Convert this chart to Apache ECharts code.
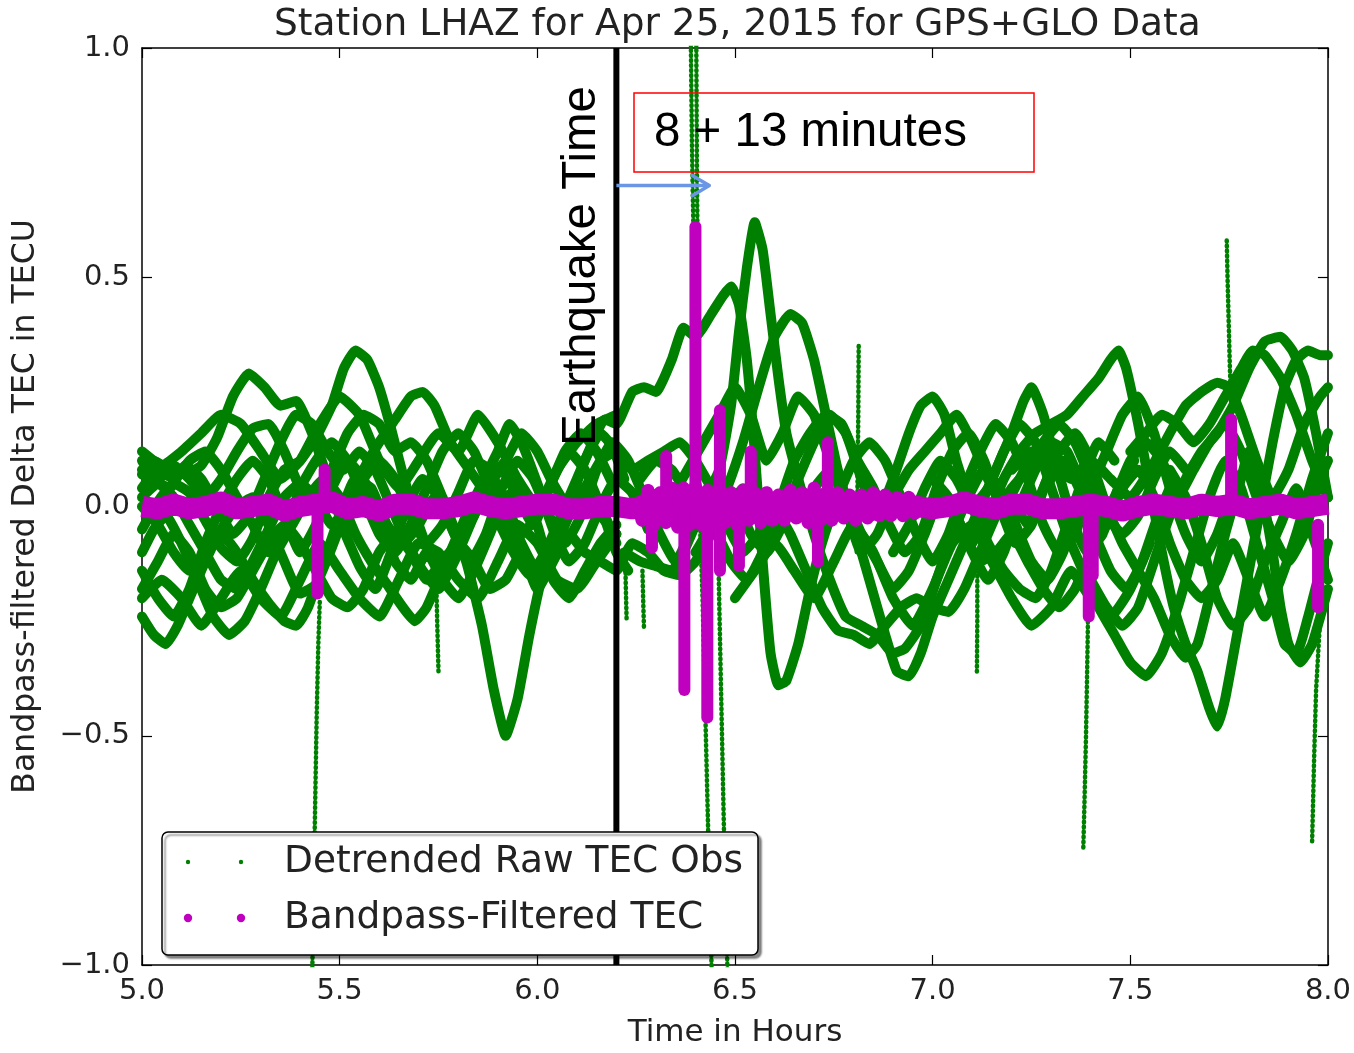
<!DOCTYPE html>
<html>
<head>
<meta charset="utf-8">
<script src="https://cdn.jsdelivr.net/npm/echarts/dist/echarts.min.js"></script>
<style>
  html, body { margin: 0; padding: 0; background: #ffffff; overflow: hidden; }
  #chart { width: 1354px; height: 1053px; }
</style>
</head>
<body>
<div id="chart"></div>
<script>
// ---- axis setup ----
const xTicks = [5.0, 5.5, 6.0, 6.5, 7.0, 7.5, 8.0];
const yTicks = [-1.0, -0.5, 0.0, 0.5, 1.0];
const quakeTime = 6.2;          // hours UT
const arrowLevel = 0.70;         // TECU level of the travel-time arrow
const arrowEnd = 6.435;          // arrival of the disturbance

// ---- detrended raw TEC arcs, [hour, TECU] ----
const arc01 = [[5.00,0.07],[5.03,0.10],[5.07,0.08],[5.11,0.07],[5.15,0.09],[5.19,0.15],[5.23,0.24],[5.27,0.29],[5.31,0.26],[5.35,0.22],[5.39,0.23],[5.43,0.16],[5.47,0.06],[5.51,-0.05],[5.55,-0.13],[5.59,-0.18],[5.63,-0.10],[5.67,0.00],[5.71,0.06],[5.75,0.02],[5.79,-0.06],[5.83,-0.12],[5.87,-0.06],[5.91,0.04],[5.95,0.10],[5.99,0.06],[6.03,-0.02],[6.07,-0.08],[6.11,-0.02],[6.15,0.08],[6.19,0.14],[6.23,0.10],[6.27,0.02],[6.31,-0.06],[6.35,-0.12],[6.39,-0.05]];
const arc02 = [[5.00,-0.05],[5.04,0.01],[5.08,0.05],[5.12,0.03],[5.16,-0.03],[5.20,-0.09],[5.24,-0.12],[5.28,-0.07],[5.32,0.02],[5.36,0.08],[5.40,0.10],[5.44,0.15],[5.48,0.22],[5.51,0.30],[5.54,0.34],[5.57,0.32],[5.60,0.26],[5.63,0.17],[5.66,0.07],[5.70,-0.04],[5.74,-0.12],[5.78,-0.10],[5.82,-0.02],[5.86,0.05],[5.90,0.12],[5.93,0.18],[5.96,0.14],[6.00,0.05],[6.04,-0.05],[6.08,-0.12],[6.12,-0.08],[6.16,0.00],[6.20,0.06],[6.24,0.03],[6.28,-0.05]];
const arc03 = [[5.00,0.02],[5.04,0.05],[5.08,0.02],[5.12,-0.04],[5.16,-0.10],[5.20,-0.16],[5.24,-0.18],[5.28,-0.12],[5.32,-0.05],[5.36,0.02],[5.40,0.05],[5.44,0.02],[5.48,-0.04],[5.52,0.00],[5.56,0.08],[5.60,0.14],[5.64,0.19],[5.68,0.24],[5.71,0.25],[5.74,0.22],[5.78,0.14],[5.82,0.09],[5.86,0.04],[5.90,-0.03],[5.94,-0.10],[5.98,-0.15],[6.02,-0.10],[6.06,-0.02],[6.10,0.06],[6.14,0.14],[6.17,0.19],[6.20,0.18],[6.24,0.25],[6.27,0.26],[6.30,0.25],[6.34,0.32],[6.37,0.39],[6.40,0.37],[6.44,0.42],[6.47,0.46],[6.49,0.48],[6.51,0.44],[6.53,0.32],[6.55,0.12],[6.57,-0.12],[6.59,-0.32],[6.61,-0.39],[6.63,-0.38],[6.66,-0.30],[6.69,-0.18],[6.72,-0.08],[6.76,0.02],[6.80,0.10],[6.84,0.14],[6.88,0.10],[6.92,0.02],[6.96,-0.06],[7.00,-0.12],[7.04,-0.06],[7.08,0.04],[7.12,0.12],[7.16,0.18],[7.20,0.14],[7.24,0.06],[7.28,-0.04],[7.32,-0.10],[7.36,-0.06],[7.40,0.04],[7.44,0.12],[7.48,0.20],[7.52,0.24],[7.56,0.16],[7.60,0.04],[7.64,-0.06],[7.68,-0.12],[7.72,-0.06],[7.76,0.04]];
const arc04 = [[5.00,-0.24],[5.03,-0.28],[5.06,-0.30],[5.09,-0.26],[5.12,-0.20],[5.16,-0.12],[5.20,-0.05],[5.24,0.00],[5.28,0.02],[5.32,-0.04],[5.36,-0.12],[5.40,-0.19],[5.44,-0.17],[5.48,-0.09],[5.52,0.00],[5.56,0.06],[5.60,0.10],[5.64,0.06],[5.68,-0.02],[5.72,-0.08],[5.76,-0.04],[5.80,0.03],[5.84,0.10],[5.88,0.08],[5.92,0.00],[5.96,-0.08],[6.00,-0.14],[6.04,-0.10],[6.08,-0.02],[6.12,0.04],[6.16,0.00],[6.20,-0.08]];
const arc05 = [[5.00,-0.10],[5.03,-0.05],[5.06,-0.02],[5.10,-0.08],[5.14,-0.16],[5.18,-0.24],[5.22,-0.28],[5.26,-0.25],[5.30,-0.18],[5.34,-0.10],[5.38,-0.04],[5.42,0.02],[5.46,0.06],[5.50,0.02],[5.54,-0.06],[5.58,-0.12],[5.62,-0.17],[5.66,-0.22],[5.69,-0.25],[5.72,-0.22],[5.76,-0.14],[5.80,-0.06],[5.84,0.00],[5.88,0.04],[5.92,0.00],[5.96,-0.06],[6.00,-0.02],[6.04,0.06],[6.08,0.12],[6.12,0.08],[6.16,0.00],[6.20,-0.10],[6.23,-0.14]];
const arc06 = [[5.00,0.00],[5.04,-0.04],[5.08,-0.10],[5.12,-0.14],[5.16,-0.10],[5.20,-0.06],[5.24,-0.10],[5.28,-0.16],[5.32,-0.21],[5.36,-0.25],[5.39,-0.26],[5.42,-0.22],[5.46,-0.12],[5.50,-0.02],[5.54,0.06],[5.58,0.04],[5.62,-0.04],[5.66,-0.08],[5.70,-0.04],[5.74,0.02],[5.78,-0.04],[5.82,-0.12],[5.86,-0.26],[5.89,-0.40],[5.92,-0.50],[5.95,-0.42],[5.98,-0.28],[6.01,-0.16],[6.04,-0.08],[6.08,-0.02],[6.12,0.02],[6.16,-0.02],[6.20,-0.06]];
const arc07 = [[5.00,0.08],[5.04,0.06],[5.08,0.09],[5.12,0.06],[5.16,0.02],[5.20,0.06],[5.24,0.12],[5.28,0.17],[5.32,0.18],[5.36,0.12],[5.40,0.04],[5.44,0.00],[5.48,0.08],[5.52,0.16],[5.56,0.20],[5.60,0.18],[5.64,0.12],[5.68,0.14],[5.72,0.10],[5.76,0.02],[5.80,-0.06],[5.84,-0.02],[5.88,0.06],[5.92,0.10],[5.96,0.16],[6.00,0.12],[6.04,0.05],[6.08,0.00],[6.12,0.04],[6.16,0.10],[6.20,0.12],[6.24,0.08],[6.28,0.10],[6.32,0.12],[6.36,0.14],[6.40,0.10],[6.44,0.04],[6.48,-0.04],[6.52,-0.10],[6.56,-0.06],[6.60,0.02]];
const arc08 = [[5.00,-0.18],[5.04,-0.12],[5.08,-0.06],[5.12,-0.10],[5.16,-0.18],[5.20,-0.22],[5.24,-0.20],[5.28,-0.14],[5.32,-0.08],[5.36,-0.04],[5.40,-0.08],[5.44,-0.14],[5.48,-0.20],[5.52,-0.22],[5.56,-0.18],[5.60,-0.10],[5.64,-0.06],[5.68,-0.10],[5.72,-0.16],[5.76,-0.12],[5.80,-0.08],[5.84,-0.12],[5.88,-0.18],[5.92,-0.16],[5.96,-0.10],[6.00,-0.18],[6.04,-0.12],[6.08,-0.06],[6.12,-0.10],[6.16,-0.12],[6.20,-0.14],[6.24,-0.08],[6.28,-0.10],[6.32,-0.14],[6.36,-0.15],[6.40,-0.12],[6.44,-0.06],[6.48,0.00],[6.52,0.04]];
const arc09 = [[6.26,0.06],[6.30,0.10],[6.34,0.08],[6.38,0.03],[6.42,0.02],[6.46,0.08],[6.49,0.22],[6.51,0.38],[6.53,0.52],[6.55,0.62],[6.57,0.56],[6.59,0.42],[6.61,0.28],[6.63,0.16],[6.66,0.06],[6.70,-0.06],[6.74,-0.16],[6.78,-0.24],[6.82,-0.26],[6.86,-0.28],[6.90,-0.32],[6.93,-0.31],[6.97,-0.26],[7.01,-0.16],[7.05,-0.06],[7.09,0.02],[7.13,0.08],[7.17,0.04],[7.21,-0.04],[7.25,-0.12],[7.29,-0.16],[7.33,-0.10],[7.37,0.00],[7.41,0.08]];
const arc10 = [[6.40,-0.10],[6.44,-0.04],[6.48,0.04],[6.52,0.14],[6.56,0.26],[6.60,0.37],[6.64,0.42],[6.67,0.40],[6.70,0.32],[6.73,0.20],[6.76,0.08],[6.80,-0.04],[6.84,-0.16],[6.88,-0.28],[6.91,-0.36],[6.94,-0.37],[6.97,-0.32],[7.00,-0.24],[7.04,-0.16],[7.08,-0.08],[7.12,0.00],[7.16,0.08],[7.20,0.16],[7.23,0.23],[7.25,0.26],[7.28,0.20],[7.31,0.10],[7.35,-0.02],[7.39,-0.10],[7.43,-0.06],[7.47,0.04],[7.51,0.10]];
const arc11 = [[6.22,-0.10],[6.26,-0.12],[6.30,-0.13],[6.34,-0.14],[6.38,-0.08],[6.42,0.00],[6.46,0.06],[6.50,0.02],[6.54,-0.06],[6.58,-0.10],[6.62,-0.04],[6.66,0.06],[6.70,0.14],[6.74,0.20],[6.78,0.16],[6.82,0.06],[6.86,-0.02],[6.90,0.06],[6.94,0.16],[6.97,0.22],[7.00,0.24],[7.03,0.20],[7.06,0.10],[7.10,0.00],[7.14,-0.08],[7.18,-0.14],[7.22,-0.18],[7.26,-0.20],[7.30,-0.14],[7.34,-0.04],[7.38,0.06],[7.42,0.14],[7.46,0.10]];
const arc12 = [[7.10,-0.08],[7.14,-0.02],[7.18,0.06],[7.22,0.12],[7.26,0.16],[7.30,0.18],[7.34,0.20],[7.38,0.24],[7.42,0.28],[7.45,0.32],[7.47,0.34],[7.49,0.30],[7.52,0.18],[7.55,0.04],[7.58,-0.10],[7.61,-0.22],[7.64,-0.30],[7.67,-0.36],[7.70,-0.44],[7.72,-0.48],[7.74,-0.42],[7.77,-0.28],[7.80,-0.14],[7.83,0.00],[7.86,0.14],[7.89,0.26],[7.92,0.32],[7.95,0.34],[7.98,0.33],[8.00,0.33]];
const arc13 = [[7.40,-0.16],[7.44,-0.22],[7.48,-0.26],[7.52,-0.22],[7.56,-0.12],[7.60,-0.02],[7.64,0.06],[7.68,0.12],[7.72,0.16],[7.76,0.22],[7.80,0.30],[7.84,0.36],[7.88,0.37],[7.91,0.34],[7.94,0.28],[7.97,0.16],[8.00,0.02]];
const arc14 = [[6.90,-0.10],[6.94,-0.04],[6.98,0.04],[7.02,0.10],[7.06,0.06],[7.10,0.00],[7.14,0.04],[7.18,0.12],[7.22,0.18],[7.26,0.14],[7.30,0.04],[7.34,-0.06],[7.38,-0.14],[7.42,-0.22],[7.46,-0.28],[7.50,-0.34],[7.54,-0.37],[7.58,-0.32],[7.62,-0.22],[7.66,-0.10],[7.70,0.02],[7.74,0.10],[7.78,0.04],[7.82,-0.08],[7.86,-0.20],[7.89,-0.30],[7.92,-0.32],[7.95,-0.24],[7.98,-0.14],[8.00,-0.08]];
const arc15 = [[7.20,0.02],[7.24,-0.04],[7.28,0.04],[7.32,0.12],[7.36,0.16],[7.40,0.10],[7.44,0.00],[7.48,-0.08],[7.52,-0.14],[7.56,-0.20],[7.60,-0.28],[7.64,-0.33],[7.67,-0.30],[7.70,-0.20],[7.74,-0.06],[7.78,0.06],[7.80,0.12],[7.83,0.04],[7.86,-0.10],[7.88,-0.22],[7.90,-0.30],[7.93,-0.34],[7.96,-0.30],[8.00,-0.18]];
const arc16 = [[7.20,0.08],[7.25,0.12],[7.30,0.10],[7.35,0.06],[7.40,0.10],[7.45,0.06],[7.50,0.02],[7.55,0.08],[7.60,0.16],[7.64,0.22],[7.68,0.25],[7.72,0.27],[7.75,0.26],[7.78,0.20],[7.82,0.10],[7.86,0.02],[7.90,0.08],[7.94,0.18],[7.98,0.24],[8.00,0.26]];
const arc17 = [[6.60,0.00],[6.64,-0.06],[6.68,-0.14],[6.72,-0.22],[6.76,-0.27],[6.80,-0.28],[6.84,-0.30],[6.88,-0.26],[6.92,-0.22],[6.96,-0.20],[7.00,-0.22],[7.04,-0.23],[7.08,-0.18],[7.12,-0.10],[7.16,-0.02],[7.20,0.04],[7.24,0.08],[7.28,0.14],[7.32,0.18],[7.36,0.14],[7.40,0.06],[7.44,-0.02],[7.48,-0.06],[7.52,-0.02],[7.56,0.06],[7.60,0.12],[7.64,0.08]];
const arc18 = [[6.45,-0.05],[6.49,-0.12],[6.53,-0.16],[6.57,-0.10],[6.61,0.00],[6.65,0.10],[6.69,0.16],[6.73,0.20],[6.77,0.18],[6.81,0.10],[6.85,0.04],[6.89,-0.04],[6.93,-0.10],[6.97,-0.06],[7.01,0.04],[7.05,0.12],[7.09,0.16],[7.13,0.10],[7.17,0.00],[7.21,-0.08],[7.25,-0.04],[7.29,0.06],[7.33,0.10],[7.37,0.04],[7.41,-0.06],[7.45,-0.14],[7.49,-0.18],[7.53,-0.12],[7.57,-0.02],[7.61,0.06]];
const arc19 = [[5.00,0.04],[5.04,0.08],[5.08,0.06],[5.12,0.10],[5.16,0.12],[5.20,0.08],[5.24,0.02],[5.28,-0.04],[5.32,-0.10],[5.36,-0.06],[5.40,0.04],[5.44,0.10],[5.48,0.14],[5.52,0.10],[5.56,0.02],[5.60,-0.06],[5.64,-0.10],[5.68,-0.04],[5.72,0.04],[5.76,0.12],[5.80,0.16],[5.84,0.12],[5.88,0.04],[5.92,-0.04],[5.96,-0.12],[6.00,-0.16],[6.04,-0.10],[6.08,0.00],[6.12,0.10],[6.16,0.16],[6.19,0.13],[6.22,0.06]];
const arc20 = [[5.00,-0.14],[5.04,-0.20],[5.08,-0.24],[5.12,-0.18],[5.16,-0.08],[5.20,0.00],[5.24,0.06],[5.28,0.10],[5.32,0.06],[5.36,-0.02],[5.40,-0.10],[5.44,-0.04],[5.48,0.04],[5.52,0.10],[5.56,0.06],[5.60,-0.02],[5.64,-0.12],[5.68,-0.16],[5.72,-0.10],[5.76,-0.16],[5.80,-0.20],[5.84,-0.14],[5.88,-0.06],[5.92,0.02],[5.96,0.04],[6.00,-0.04],[6.04,-0.16],[6.08,-0.20],[6.12,-0.14],[6.16,-0.08],[6.20,-0.04]];
const arc21 = [[5.00,0.10],[5.03,0.06],[5.07,0.04],[5.11,0.09],[5.15,0.06],[5.19,0.00],[5.23,-0.06],[5.27,-0.02],[5.31,0.06],[5.35,0.14],[5.39,0.20],[5.43,0.18],[5.47,0.12],[5.51,0.08],[5.55,0.12],[5.59,0.08],[5.63,0.00],[5.67,-0.08],[5.71,-0.14],[5.75,-0.18],[5.79,-0.12],[5.83,-0.04],[5.87,0.04],[5.91,0.08],[5.95,0.02],[5.99,-0.04],[6.03,0.04],[6.07,0.12],[6.11,0.16],[6.15,0.12],[6.19,0.05]];
const arc22 = [[6.70,0.04],[6.74,0.08],[6.78,0.02],[6.82,-0.06],[6.86,-0.12],[6.90,-0.18],[6.94,-0.14],[6.98,-0.06],[7.02,0.02],[7.06,-0.02],[7.10,-0.10],[7.14,-0.16],[7.18,-0.10],[7.22,0.00],[7.26,0.08],[7.30,0.14],[7.34,0.12],[7.38,0.04],[7.42,-0.04],[7.46,0.02],[7.50,0.10],[7.54,0.14],[7.58,0.10],[7.62,0.02],[7.66,0.08],[7.70,0.14],[7.74,0.18],[7.78,0.12],[7.82,0.02],[7.86,-0.06],[7.90,-0.12],[7.94,-0.06],[7.98,0.06],[8.00,0.10]];
const arc23 = [[7.00,0.06],[7.04,0.02],[7.08,-0.06],[7.12,-0.12],[7.16,-0.10],[7.20,-0.06],[7.24,-0.12],[7.28,-0.18],[7.32,-0.22],[7.36,-0.18],[7.40,-0.10],[7.44,-0.04],[7.48,0.04],[7.52,0.08],[7.56,0.02],[7.60,-0.08],[7.64,-0.16],[7.68,-0.20],[7.72,-0.16],[7.76,-0.08],[7.80,-0.16],[7.84,-0.24],[7.88,-0.16],[7.92,-0.06],[7.96,0.06],[8.00,0.16]];
const arc24 = [[7.50,0.12],[7.54,0.16],[7.58,0.20],[7.62,0.18],[7.66,0.14],[7.70,0.18],[7.74,0.24],[7.78,0.30],[7.81,0.34],[7.84,0.33],[7.88,0.28],[7.92,0.20],[7.96,0.10],[8.00,0.02]];
const arc25 = [[5.00,0.12],[5.05,0.09],[5.10,0.12],[5.15,0.16],[5.20,0.20],[5.25,0.18],[5.30,0.12],[5.35,0.06],[5.40,0.10],[5.45,0.18],[5.50,0.24],[5.55,0.20],[5.60,0.10],[5.65,0.04],[5.70,0.10],[5.75,0.16],[5.80,0.12],[5.85,0.20],[5.90,0.14],[5.95,0.06],[6.00,0.00],[6.05,0.08],[6.10,0.14],[6.15,0.18],[6.20,0.20]];
const arc26 = [[5.00,-0.20],[5.05,-0.16],[5.10,-0.20],[5.15,-0.26],[5.20,-0.20],[5.25,-0.14],[5.30,-0.20],[5.35,-0.24],[5.40,-0.16],[5.45,-0.08],[5.50,-0.14],[5.55,-0.20],[5.60,-0.24],[5.65,-0.16],[5.70,-0.08],[5.75,-0.10],[5.80,-0.16],[5.85,-0.20],[5.90,-0.12],[5.95,-0.04],[6.00,-0.08],[6.05,-0.16],[6.10,-0.18],[6.15,-0.12],[6.20,-0.06]];
const arc27 = [[6.26,0.00],[6.30,-0.04],[6.34,0.02],[6.38,0.08],[6.42,0.14],[6.46,0.20],[6.50,0.26],[6.54,0.20],[6.58,0.10],[6.62,0.16],[6.66,0.24],[6.70,0.20],[6.74,0.10],[6.78,0.00],[6.82,-0.10],[6.86,-0.06],[6.90,0.02],[6.94,0.08],[6.98,0.12],[7.02,0.16],[7.06,0.20],[7.10,0.14],[7.14,0.06],[7.18,0.00],[7.22,0.06],[7.26,0.12],[7.30,0.06]];
const arc28 = [[6.50,-0.20],[6.55,-0.14],[6.60,-0.08],[6.65,-0.14],[6.70,-0.20],[6.75,-0.12],[6.80,-0.04],[6.85,-0.10],[6.90,-0.20],[6.95,-0.26],[7.00,-0.18],[7.05,-0.08],[7.10,-0.04],[7.15,-0.12],[7.20,-0.20],[7.25,-0.26],[7.30,-0.22],[7.35,-0.14],[7.40,-0.20],[7.45,-0.24],[7.50,-0.18],[7.55,-0.08]];
const arc29 = [[7.60,0.08],[7.64,0.02],[7.68,-0.08],[7.72,-0.20],[7.76,-0.26],[7.80,-0.22],[7.84,-0.12],[7.88,-0.04],[7.92,0.04],[7.96,-0.06],[8.00,-0.16]];
const rawArcs = [arc01, arc02, arc03, arc04, arc05, arc06, arc07, arc08, arc09, arc10,
                 arc11, arc12, arc13, arc14, arc15, arc16, arc17, arc18, arc19, arc20,
                 arc21, arc22, arc23, arc24, arc25, arc26, arc27, arc28, arc29];

// short, steep arcs (sparse samples) -- drawn as dotted runs
const steep01 = [[5.430,-1.05],[5.434,-0.85],[5.438,-0.65],[5.442,-0.45],[5.446,-0.30],[5.450,-0.20]];
const steep02 = [[5.744,-0.15],[5.747,-0.26],[5.750,-0.36]];
const steep03 = [[6.222,-0.10],[6.224,-0.18],[6.226,-0.25]];
const steep04 = [[6.266,-0.14],[6.268,-0.21],[6.270,-0.27]];
const steep05 = [[6.388,1.05],[6.391,0.80],[6.395,0.60],[6.400,0.40],[6.405,0.20],[6.410,0.00],[6.418,-0.20],[6.425,-0.45],[6.432,-0.70],[6.438,-0.90],[6.442,-1.05]];
const steep06 = [[6.402,1.05],[6.403,0.85],[6.404,0.70],[6.405,0.60]];
const steep07 = [[6.455,0.05],[6.460,-0.20],[6.466,-0.45],[6.472,-0.70],[6.478,-0.90],[6.482,-1.05]];
const steep08 = [[6.813,0.35],[6.812,0.20],[6.810,0.05],[6.808,-0.10]];
const steep09 = [[7.113,-0.14],[7.113,-0.25],[7.112,-0.36]];
const steep10 = [[7.395,-0.12],[7.392,-0.30],[7.388,-0.50],[7.384,-0.65],[7.381,-0.75]];
const steep11 = [[7.744,0.58],[7.746,0.50],[7.749,0.40],[7.752,0.30],[7.756,0.20],[7.760,0.10],[7.765,0.00]];
const steep12 = [[7.960,-0.73],[7.965,-0.55],[7.970,-0.40],[7.980,-0.25],[7.990,-0.12]];
const steepArcs = [steep01, steep02, steep03, steep04, steep05, steep06,
                   steep07, steep08, steep09, steep10, steep11, steep12];

// ---- bandpass-filtered TEC ----
const bandTEC = [[5.00,0.00],[5.04,-0.005],[5.08,0.005],[5.12,-0.005],[5.16,0.00],[5.20,0.01],[5.24,-0.005],[5.28,0.00],[5.32,0.005],[5.36,-0.01],[5.40,0.00],[5.44,0.005],[5.48,0.01],[5.52,-0.005],[5.56,0.00],[5.60,-0.01],[5.64,0.005],[5.68,0.005],[5.72,-0.005],[5.76,-0.005],[5.80,0.00],[5.84,0.01],[5.88,0.00],[5.92,-0.005],[5.96,0.00],[6.00,0.005],[6.04,0.005],[6.08,-0.005],[6.12,-0.005],[6.16,0.00],[6.20,0.00],[6.24,-0.005],[6.28,0.005],[6.32,-0.005],[6.36,0.005],[6.40,0.00],[6.44,-0.005],[6.48,0.005],[6.52,0.00],[6.56,-0.005],[6.60,0.00],[6.64,0.005],[6.68,-0.005],[6.72,0.00],[6.76,0.005],[6.80,0.00],[6.84,-0.01],[6.88,0.00],[6.92,0.005],[6.96,0.00],[7.00,-0.005],[7.04,0.00],[7.08,0.01],[7.12,0.00],[7.16,-0.005],[7.20,0.005],[7.24,0.005],[7.28,-0.005],[7.32,-0.005],[7.36,0.00],[7.40,0.005],[7.44,0.00],[7.48,-0.01],[7.52,0.00],[7.56,0.005],[7.60,0.00],[7.64,-0.005],[7.68,0.005],[7.72,0.00],[7.76,0.005],[7.80,-0.005],[7.84,0.00],[7.88,0.005],[7.92,-0.005],[7.96,0.00],[8.00,0.005]];
const burstTEC = [[6.25,0.02],[6.265,-0.03],[6.28,0.035],[6.295,-0.04],[6.31,0.03],[6.325,-0.035],[6.34,0.04],[6.355,-0.045],[6.37,0.04],[6.385,-0.04],[6.40,0.045],[6.415,-0.04],[6.43,0.035],[6.445,-0.04],[6.46,0.04],[6.475,-0.035],[6.49,0.03],[6.505,-0.04],[6.52,0.035],[6.535,-0.03],[6.55,0.03],[6.565,-0.035],[6.58,0.03],[6.595,-0.03],[6.61,0.025],[6.625,-0.03],[6.64,0.035],[6.655,-0.025],[6.67,0.03],[6.685,-0.035],[6.70,0.04],[6.715,-0.03],[6.73,0.03],[6.745,-0.03],[6.76,0.03],[6.775,-0.025],[6.79,0.025],[6.805,-0.03],[6.82,0.025],[6.835,-0.025],[6.85,0.03],[6.865,-0.02],[6.88,0.025],[6.895,-0.02],[6.91,0.02],[6.925,-0.02],[6.94,0.02],[6.955,-0.015],[6.97,0.015]];
// filtered excursions: [hour, from, to]
const filtSpikes = [
  [5.444, 0.00, -0.19], [5.462, 0.00, 0.08], [6.290, 0.00, -0.09], [6.326, 0.00, 0.11],
  [6.372, 0.00, -0.40], [6.400, 0.00, 0.61], [6.430, 0.00, -0.46], [6.462, -0.14, 0.21],
  [6.510, 0.00, -0.13], [6.540, 0.00, 0.12], [6.710, 0.00, -0.12], [6.735, 0.00, 0.14],
  [7.395, 0.00, -0.24], [7.405, 0.00, -0.15], [7.755, 0.00, 0.19], [7.975, -0.04, -0.22]
];

const GREEN = '#008000';
const MAGENTA = '#bf00bf';
const FONT = 'DejaVu Sans';

const chart = echarts.init(document.getElementById('chart'), null, { renderer: 'canvas', width: 1354, height: 1053 });

const series = [];
rawArcs.forEach(function (arc) {
  series.push({
    type: 'line', data: arc, smooth: 0.15, showSymbol: false, silent: true,
    lineStyle: { color: GREEN, width: 10, cap: 'round', join: 'round' }, z: 2
  });
});
steepArcs.forEach(function (arc) {
  series.push({
    type: 'line', data: arc, showSymbol: false, silent: true,
    lineStyle: { color: GREEN, width: 4.5, type: [1, 4], cap: 'round' }, z: 2
  });
});
series.push({
  type: 'line', data: bandTEC, showSymbol: false, silent: true,
  lineStyle: { color: MAGENTA, width: 21, join: 'round' }, z: 3
});
series.push({
  type: 'line', data: burstTEC, showSymbol: false, silent: true,
  lineStyle: { color: MAGENTA, width: 13, join: 'round' }, z: 3
});
filtSpikes.forEach(function (s) {
  series.push({
    type: 'line', data: [[s[0], s[1]], [s[0], s[2]]], showSymbol: false, silent: true,
    lineStyle: { color: MAGENTA, width: 12, cap: 'round' }, z: 3
  });
});
// earthquake time marker
series.push({
  type: 'line', data: [[quakeTime, -1], [quakeTime, 1]], showSymbol: false, silent: true,
  lineStyle: { color: '#000000', width: 6 }, z: 5
});
// travel-time arrow
series.push({
  type: 'line', data: [[quakeTime, arrowLevel], [arrowEnd, arrowLevel]], showSymbol: false, silent: true,
  lineStyle: { color: '#6b96e6', width: 3.5 }, z: 6
});
series.push({
  type: 'line', data: [[arrowEnd - 0.043, arrowLevel + 0.022], [arrowEnd, arrowLevel], [arrowEnd - 0.043, arrowLevel - 0.022]],
  showSymbol: false, silent: true,
  lineStyle: { color: '#6b96e6', width: 3.5, cap: 'round', join: 'round' }, z: 6
});

const minus = function (v) { return (v < 0 ? '\u2212' : '') + Math.abs(v).toFixed(1); };
const frameLine = { show: true, onZero: false, lineStyle: { color: '#000000', width: 1.5 } };
const innerTick = { show: true, inside: true, length: 10, lineStyle: { color: '#000000', width: 1.2 } };

chart.setOption({
  animation: false,
  backgroundColor: '#ffffff',
  title: {
    text: 'Station LHAZ for Apr 25, 2015 for GPS+GLO Data',
    left: 269, top: 1,
    textStyle: { fontFamily: FONT, fontSize: 37.5, fontWeight: 'normal', color: '#222222' }
  },
  grid: { left: 142, top: 48, width: 1190, height: 924, containLabel: false },
  xAxis: [
    {
      type: 'value', min: xTicks[0], max: xTicks[xTicks.length - 1], interval: 0.5,
      position: 'bottom', axisLine: frameLine, axisTick: innerTick, splitLine: { show: false },
      axisLabel: { formatter: minus, fontFamily: FONT, fontSize: 29, color: '#222222', margin: 12 },
      name: 'Time in Hours', nameLocation: 'middle', nameGap: 52,
      nameTextStyle: { fontFamily: FONT, fontSize: 31, color: '#222222' }
    },
    {
      type: 'value', min: xTicks[0], max: xTicks[xTicks.length - 1], interval: 0.5,
      position: 'top', axisLine: frameLine, axisTick: innerTick, splitLine: { show: false },
      axisLabel: { show: false }
    }
  ],
  yAxis: [
    {
      type: 'value', min: yTicks[0], max: yTicks[yTicks.length - 1], interval: 0.5,
      position: 'left', axisLine: frameLine, axisTick: innerTick, splitLine: { show: false },
      axisLabel: { formatter: minus, fontFamily: FONT, fontSize: 29, color: '#222222', margin: 12 },
      name: 'Bandpass-filtered Delta TEC in TECU', nameLocation: 'middle', nameGap: 100, nameRotate: 90,
      nameTextStyle: { fontFamily: FONT, fontSize: 31.5, color: '#222222' }
    },
    {
      type: 'value', min: yTicks[0], max: yTicks[yTicks.length - 1], interval: 0.5,
      position: 'right', axisLine: frameLine, axisTick: innerTick, splitLine: { show: false },
      axisLabel: { show: false }
    }
  ],
  series: series,
  graphic: [
    {
      type: 'text', x: 582, y: 266, rotation: Math.PI / 2, z: 20,
      style: { text: 'Earthquake Time', fontFamily: 'Liberation Sans', fontSize: 47.5,
               fill: '#000000', textAlign: 'center', textVerticalAlign: 'middle' }
    },
    {
      type: 'rect', z: 20, shape: { x: 634, y: 93, width: 400, height: 79 },
      style: { fill: 'none', stroke: '#ff0000', lineWidth: 1.5 }
    },
    {
      type: 'text', x: 654, y: 133, z: 20,
      style: { text: '8 + 13 minutes', fontFamily: 'Liberation Sans', fontSize: 47.5,
               fill: '#000000', textAlign: 'left', textVerticalAlign: 'middle' }
    },
    {
      type: 'rect', z: 100, shape: { x: 162, y: 832, width: 596, height: 123, r: 6 },
      style: { fill: '#ffffff', stroke: '#000000', lineWidth: 1.5,
               shadowColor: 'rgba(0,0,0,0.45)', shadowOffsetX: 3, shadowOffsetY: 3, shadowBlur: 2 }
    },
    { type: 'circle', z: 101, shape: { cx: 188, cy: 862, r: 2.2 }, style: { fill: GREEN } },
    { type: 'circle', z: 101, shape: { cx: 241, cy: 862, r: 2.2 }, style: { fill: GREEN } },
    { type: 'circle', z: 101, shape: { cx: 188, cy: 918, r: 4.2 }, style: { fill: MAGENTA } },
    { type: 'circle', z: 101, shape: { cx: 241, cy: 918, r: 4.2 }, style: { fill: MAGENTA } },
    {
      type: 'text', z: 101, x: 284, y: 862,
      style: { text: 'Detrended Raw TEC Obs', fontFamily: FONT, fontSize: 37.5, fill: '#222222',
               textAlign: 'left', textVerticalAlign: 'middle' }
    },
    {
      type: 'text', z: 101, x: 284, y: 918,
      style: { text: 'Bandpass-Filtered TEC', fontFamily: FONT, fontSize: 37.5, fill: '#222222',
               textAlign: 'left', textVerticalAlign: 'middle' }
    }
  ]
});
</script>
</body>
</html>
